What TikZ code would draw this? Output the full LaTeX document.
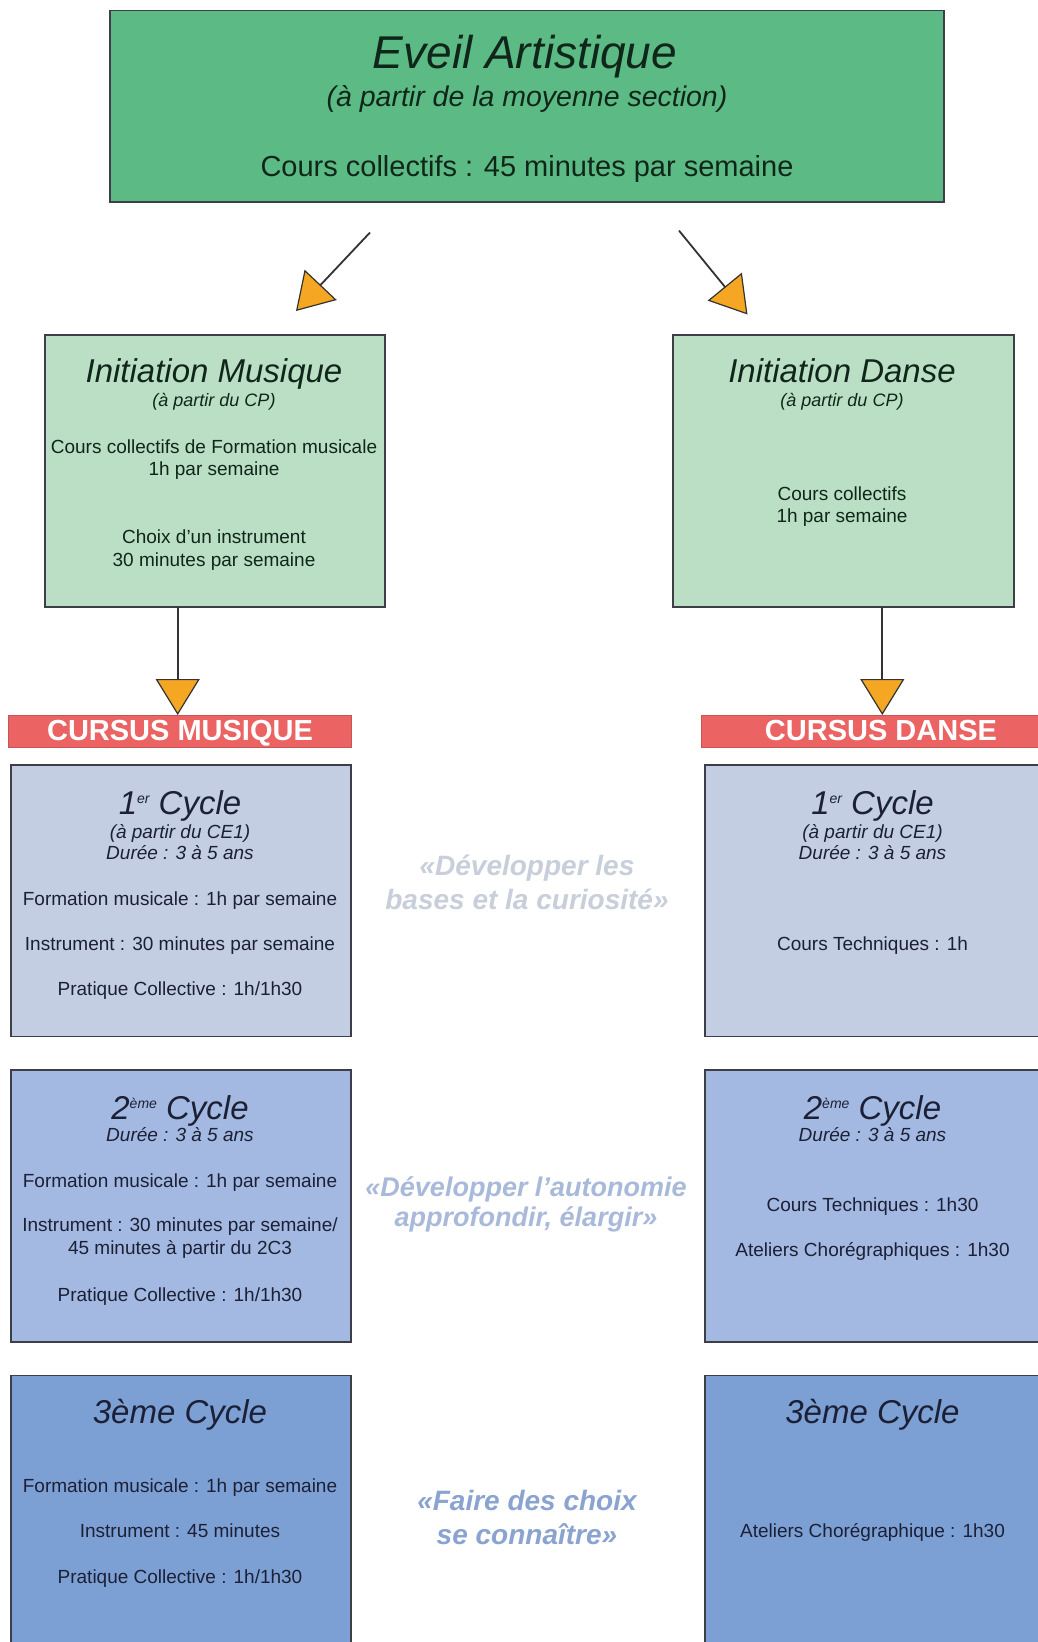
\documentclass[tikz,border=0pt]{standalone}
\usepackage{fontspec}
\setmainfont{Liberation Sans}
\usetikzlibrary{arrows.meta}
\definecolor{topgreen}{HTML}{5CBB84}
\definecolor{initgreen}{HTML}{BADFC5}
\definecolor{cycA}{HTML}{C3CEE2}
\definecolor{cycB}{HTML}{A3B9E1}
\definecolor{cycC}{HTML}{7DA0D4}
\definecolor{barred}{HTML}{EB6363}
\definecolor{arrowor}{HTML}{F5A623}
\definecolor{lineC}{HTML}{333333}
\definecolor{bordC}{HTML}{3C3F48}
\definecolor{txtG}{HTML}{10261A}
\definecolor{txtB}{HTML}{1C2036}
\definecolor{qA}{HTML}{C8CFDB}
\definecolor{qB}{HTML}{A8B9DA}
\definecolor{qC}{HTML}{8AA3D0}
\newcommand\fs[1]{\fontsize{#1pt}{#1pt}\selectfont}
\newcommand\supr[1]{\raisebox{11pt}{\fontsize{14pt}{14pt}\selectfont #1}}
\begin{document}
\begin{tikzpicture}[x=1pt,y=-1pt,
 box/.style={draw=bordC, line width=1.6pt, inner sep=0pt, outer sep=0pt},
 t/.style={anchor=base, inner sep=0pt, text=txtB},
 body/.style={t, font=\fs{19}},
 sub/.style={t, font=\fs{19}\itshape},
 ttl/.style={t, font=\fs{33}\itshape},
 gbody/.style={body, text=txtG},
 gsub/.style={sub, text=txtG},
 gttl/.style={ttl, text=txtG},
 barbox/.style={fill=barred, draw=barred!85!black, line width=0.8pt, inner sep=0pt, outer sep=0pt},
 bartxt/.style={anchor=base, inner sep=0pt, text=white, font=\fs{29}\bfseries},
 quote/.style={anchor=base, inner sep=0pt, font=\fs{28}\bfseries\itshape},
 conn/.style={draw=lineC, line width=1.8pt, -{Triangle[length=36pt,width=44pt,fill=arrowor,line width=1.2pt]}}
]
\useasboundingbox (0,0) rectangle (1037,1642);
\fill[white] (0,0) rectangle (1037,1642);

% Top box
\node[box, fill=topgreen, minimum width=834pt, minimum height=191.5pt] (top) at (527,106.25) {};
\node[t, text=txtG, font=\fs{46}\itshape] (topT) at (525,68) {Eveil Artistique};
\node[t, text=txtG, font=\fs{28.5}\itshape] (topS) at (527,106.5) {(à partir de la moyenne section)};
\node[t, text=txtG, font=\fs{29}] (topB) at (527,176.5) {Cours collectifs : 45 minutes par semaine};

% Initiation boxes
\node[box, fill=initgreen, minimum width=340pt, minimum height=272pt] (initM) at (215,471) {};
\node[gttl] (imT) at (214,382) {Initiation Musique};
\node[gsub, font=\fs{18}\itshape] (imS) at (214,406) {(à partir du CP)};
\node[gbody] (imB1) at (214,453) {Cours collectifs de Formation musicale};
\node[gbody] (imB2) at (214,475) {1h par semaine};
\node[gbody] (imB3) at (214,543) {Choix d’un instrument};
\node[gbody] (imB4) at (214,566) {30 minutes par semaine};

\node[box, fill=initgreen, minimum width=341pt, minimum height=272pt] (initD) at (843.5,471) {};
\node[gttl] (idT) at (842,382) {Initiation Danse};
\node[gsub, font=\fs{18}\itshape] (idS) at (842,406) {(à partir du CP)};
\node[gbody] (idB1) at (842,500) {Cours collectifs};
\node[gbody] (idB2) at (842,522) {1h par semaine};

% Diagonal arrows
\coordinate (aLs) at (370,232.5);
\coordinate (aLe) at (296,311);
\coordinate (aRs) at (679,230.6);
\coordinate (aRe) at (747.5,314.5);
\draw[conn] (aLs) -- (aLe);
\draw[conn] (aRs) -- (aRe);

% Bars
\node[barbox, minimum width=343pt, minimum height=32.5pt] (barM) at (180,731.25) {};
\node[bartxt] (barMt) at (180,740) {CURSUS MUSIQUE};
\node[barbox, minimum width=341pt, minimum height=32.5pt] (barD) at (871.5,731.25) {};
\node[bartxt] (barDt) at (881,740) {CURSUS DANSE};

% Vertical arrows
\coordinate (tipM) at (177.7,715);
\coordinate (tipD) at (882.3,715);
\draw[conn] (initM.south -| tipM) -- (tipM);
\draw[conn] (initD.south -| tipD) -- (tipD);

% Cycle 1
\node[box, fill=cycA, minimum width=340pt, minimum height=271.5pt] (c1M) at (181,900.75) {};
\node[ttl] (c1MT) at (180,814) {1\supr{er} Cycle};
\node[sub] (c1MS) at (180,838) {(à partir du CE1)};
\node[sub] (c1MD) at (180,859) {Durée : 3 à 5 ans};
\node[body] (c1MB1) at (180,905) {Formation musicale : 1h par semaine};
\node[body] (c1MB2) at (180,950) {Instrument : 30 minutes par semaine};
\node[body] (c1MB3) at (180,995) {Pratique Collective : 1h/1h30};

\node[box, fill=cycA, minimum width=337pt, minimum height=271.5pt] (c1D) at (873.5,900.75) {};
\node[ttl] (c1DT) at (872.5,814) {1\supr{er} Cycle};
\node[sub] (c1DS) at (872.5,838) {(à partir du CE1)};
\node[sub] (c1DD) at (872.5,859) {Durée : 3 à 5 ans};
\node[body] (c1DB1) at (872.5,950) {Cours Techniques : 1h};

\node[quote, text=qA] (q1a) at (527,875) {«Développer les};
\node[quote, text=qA] (q1b) at (527,909) {bases et la curiosité»};

% Cycle 2
\node[box, fill=cycB, minimum width=340pt, minimum height=271.7pt] (c2M) at (181,1205.85) {};
\node[ttl] (c2MT) at (180,1119) {2\supr{ème} Cycle};
\node[sub] (c2MD) at (180,1141) {Durée : 3 à 5 ans};
\node[body] (c2MB1) at (180,1187) {Formation musicale : 1h par semaine};
\node[body] (c2MB2) at (180,1231) {Instrument : 30 minutes par semaine/};
\node[body] (c2MB3) at (180,1254) {45 minutes à partir du 2C3};
\node[body] (c2MB4) at (180,1301) {Pratique Collective : 1h/1h30};

\node[box, fill=cycB, minimum width=337pt, minimum height=271.7pt] (c2D) at (873.5,1205.85) {};
\node[ttl] (c2DT) at (872.5,1119) {2\supr{ème} Cycle};
\node[sub] (c2DD) at (872.5,1141) {Durée : 3 à 5 ans};
\node[body] (c2DB1) at (872.5,1211) {Cours Techniques : 1h30};
\node[body] (c2DB2) at (872.5,1256) {Ateliers Chorégraphiques : 1h30};

\node[quote, text=qB, font=\fs{27}\bfseries\itshape] (q2a) at (526,1196) {«Développer l’autonomie};
\node[quote, text=qB, font=\fs{27}\bfseries\itshape] (q2b) at (526,1226) {approfondir, élargir»};

% Cycle 3
\node[box, fill=cycC, minimum width=340pt, minimum height=284.5pt] (c3M) at (181,1517.75) {};
\node[ttl] (c3MT) at (180,1423) {3ème Cycle};
\node[body] (c3MB1) at (180,1492) {Formation musicale : 1h par semaine};
\node[body] (c3MB2) at (180,1537) {Instrument : 45 minutes};
\node[body] (c3MB3) at (180,1583) {Pratique Collective : 1h/1h30};

\node[box, fill=cycC, minimum width=337pt, minimum height=284.5pt] (c3D) at (873.5,1517.75) {};
\node[ttl] (c3DT) at (872.5,1423) {3ème Cycle};
\node[body] (c3DB1) at (872.5,1537) {Ateliers Chorégraphique : 1h30};

\node[quote, text=qC] (q3a) at (527,1510) {«Faire des choix};
\node[quote, text=qC] (q3b) at (527,1544) {se connaître»};
\end{tikzpicture}
\end{document}
